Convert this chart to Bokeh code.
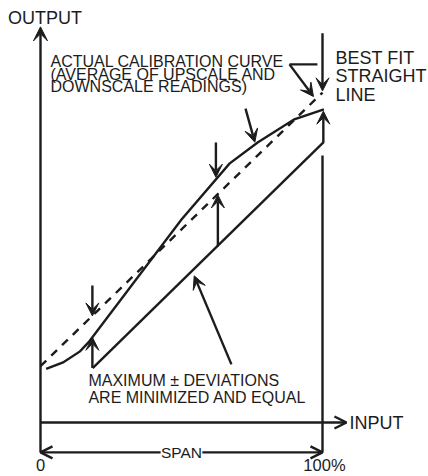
from bokeh.plotting import figure
from bokeh.models import Arrow, VeeHead, OpenHead, ColumnDataSource, Range1d, Label
from bokeh.embed import file_html
from bokeh.resources import INLINE

# ---- data (x = input in % of span, y = output in the same units) ----
curve_x = [2, 8, 14, 17, 50, 67, 77, 90, 100.5]          # actual calibration curve
curve_y = [19, 21.3, 25.2, 28.4, 72, 91.8, 99.3, 107.5, 111]
fit_x = [0, 100]                                           # best fit straight line
fit_y = [20, 117]
lower_x = [18.5, 100.5]                                    # parallel reference line
lower_y = [19.3, 99.5]

# deviation arrows (start -> tip)
dev_x0 = [18.4, 18.4, 62.2, 62.9, 100.3, 100]
dev_y0 = [48.6, 19.3, 99.3, 62.4, 99.5, 138]
dev_x1 = [18.4, 18.4, 62.2, 62.9, 100.3, 100]
dev_y1 = [37.8, 30.2, 87.0, 80.7, 110.4, 117.6]

# leader arrows (start -> tip)
lead_x0 = [88.3, 72.7, 67.7]
lead_y0 = [127.0, 111.3, 20.6]
lead_x1 = [96.8, 76.0, 54.5]
lead_y1 = [115.6, 99.4, 52.0]
bestfit_bar_x = [98.2, 88.3]
bestfit_bar_y = [127.0, 127.0]

# axes
out_axis_top = 140.3
in_axis_end = 108.5
span_y = -10.6
span_gap = [42.6, 57.4]
right_line_top = 94.7
tick_pos = [0, 100]
tick_labels = ["0", "100%"]

actual_lines = ["ACTUAL CALIBRATION CURVE", "(AVERAGE OF UPSCALE AND", "DOWNSCALE READINGS)"]
actual_y = [127.9, 123.5, 119.0]
best_lines = ["BEST FIT", "STRAIGHT", "LINE"]
best_y = [129.4, 122.7, 116.0]
max_lines = ["MAXIMUM \u00b1 DEVIATIONS", "ARE MINIMIZED AND EQUAL"]
max_y = [14.9, 8.9]

PX = 2.82
W, H = 428, 476
FONT = "Liberation Sans"
INK = "#1c1c1c"

p = figure(width=W, height=H, output_backend="svg", toolbar_location=None,
           x_range=Range1d(-40 / PX, (W - 40) / PX),
           y_range=Range1d(-(H - 422) / PX, 422 / PX),
           x_axis_type=None, y_axis_type=None, min_border=0)
p.grid.visible = False
p.outline_line_color = None
p.background_fill_color = "white"
p.border_fill_color = "white"

LW = 2.4
# lines
p.line(curve_x, curve_y, line_color=INK, line_width=LW, line_join="miter")
p.line(fit_x, fit_y, line_color=INK, line_width=LW, line_dash="8 7")
p.line(lower_x, lower_y, line_color=INK, line_width=LW)
p.line(bestfit_bar_x, bestfit_bar_y, line_color=INK, line_width=LW)
p.line([100, 100], [span_y, right_line_top], line_color=INK, line_width=LW)


def arrows(x0, y0, x1, y1, head):
    src = ColumnDataSource(dict(x0=x0, y0=y0, x1=x1, y1=y1))
    p.add_layout(Arrow(x_start="x0", y_start="y0", x_end="x1", y_end="y1", source=src,
                       line_color=INK, line_width=LW, end=head))


def vee(s):
    return VeeHead(size=s, fill_color=INK, line_color=INK, line_width=1)


def openh(s):
    return OpenHead(size=s, line_color=INK, line_width=LW)


arrows(dev_x0, dev_y0, dev_x1, dev_y1, vee(13))
arrows(lead_x0, lead_y0, lead_x1, lead_y1, vee(13))
# output axis
arrows([0], [span_y], [0], [out_axis_top], vee(14))
# input axis
arrows([0], [0], [in_axis_end], [0], openh(12))
# span arrows
arrows([span_gap[0], span_gap[1]], [span_y, span_y], [0, 100], [span_y, span_y], openh(12))


def label(x, y, text, size, align="left"):
    p.add_layout(Label(x=x, y=y, text=text, text_font=FONT, text_font_size=f"{size}px",
                       text_align=align, text_baseline="middle", text_color=INK))


label(1.6, 143.6, "OUTPUT", 18, "center")
label(109.6, 0, "INPUT", 18)
for t, yy in zip(best_lines, best_y):
    label(104.6, yy, t, 18)
for t, yy in zip(actual_lines, actual_y):
    label(3.55, yy, t, 16)
for t, yy in zip(max_lines, max_y):
    label(17.0, yy, t, 16)
label(50, span_y, "SPAN", 15.5, "center")
label(tick_pos[0], -15.2, tick_labels[0], 16.5, "center")
label(tick_pos[1] + 0.7, -15.2, tick_labels[1], 16.5, "center")

open("out.html", "w").write(file_html(p, INLINE))
